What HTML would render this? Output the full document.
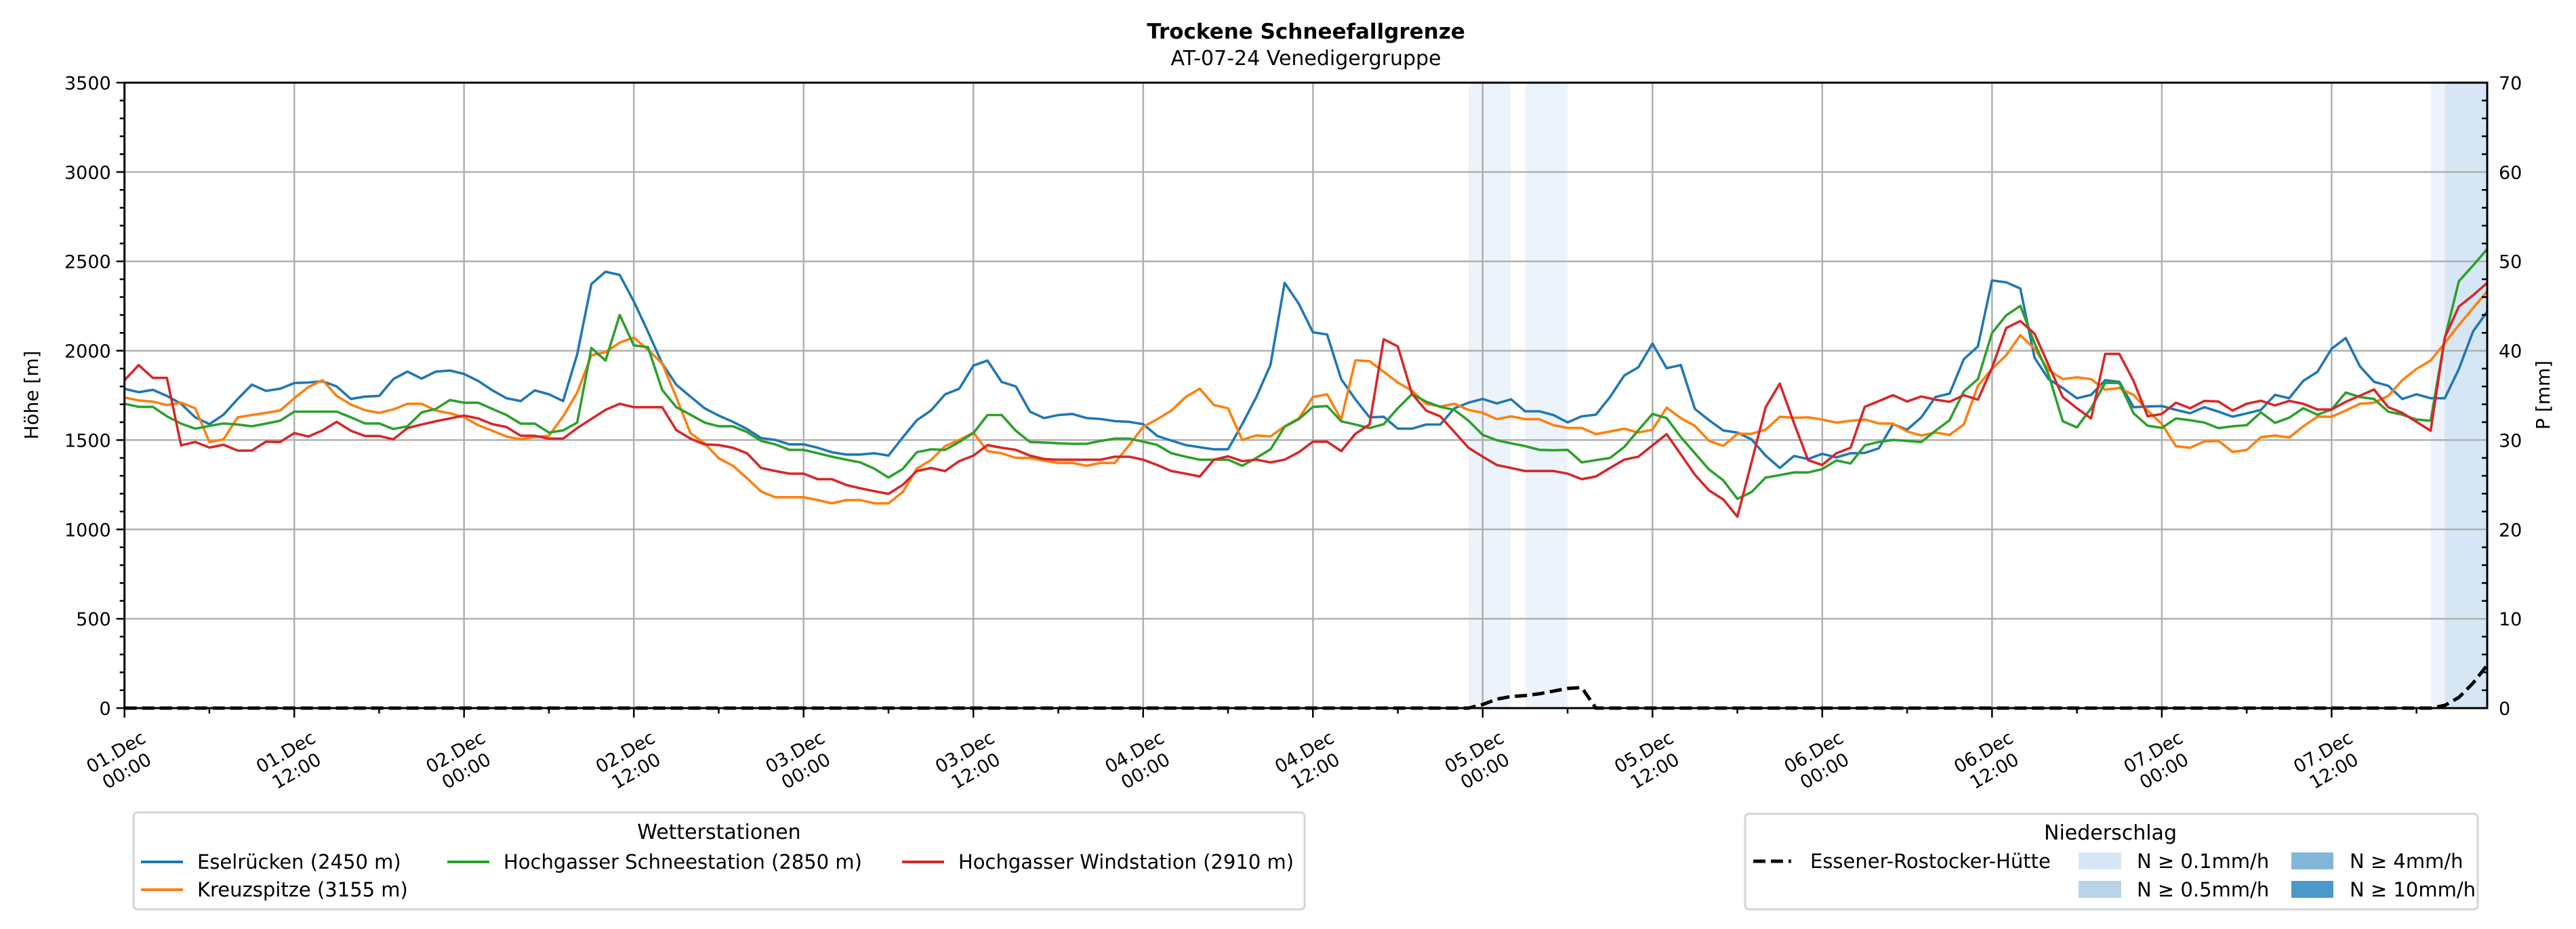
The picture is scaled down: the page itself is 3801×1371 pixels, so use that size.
<!DOCTYPE html>
<html><head><meta charset="utf-8"><style>
html,body{margin:0;padding:0;background:#fff;}
svg{display:block;font-family:"DejaVu Sans","Liberation Sans",sans-serif;}
</style></head><body>
<svg id="chart" width="3801" height="1371" viewBox="0 0 3801 1371" xmlns="http://www.w3.org/2000/svg">
<rect width="3801" height="1371" fill="#fff"/>
<text x="1927" y="57" font-size="31" font-weight="bold" text-anchor="middle">Trockene Schneefallgrenze</text>
<text x="1927" y="96" font-size="30" text-anchor="middle">AT-07-24 Venedigergruppe</text>
<g id="bands"></g>
<g id="grid"></g>
<g id="series"></g>
<g id="axes"></g>
<text transform="translate(56,583) rotate(-90)" font-size="28" text-anchor="middle">Höhe [m]</text>
<text transform="translate(3762,583) rotate(-90)" font-size="28" text-anchor="middle">P [mm]</text>

<g>
<rect x="197" y="1199" width="1728" height="143" rx="6" fill="#fff" stroke="#d4d4d4" stroke-width="3"/>
<text x="1061" y="1238" font-size="30" text-anchor="middle">Wetterstationen</text>
<g><line x1="208" y1="1272" x2="270" y2="1272" stroke="#1f77b4" stroke-width="4"/><text x="291" y="1282" font-size="29">Eselrücken (2450 m)</text></g>
<g><line x1="208" y1="1313" x2="270" y2="1313" stroke="#ff7f0e" stroke-width="4"/><text x="291" y="1323" font-size="29">Kreuzspitze (3155 m)</text></g>
<g><line x1="660" y1="1272" x2="722" y2="1272" stroke="#2ca02c" stroke-width="4"/><text x="743" y="1282" font-size="29">Hochgasser Schneestation (2850 m)</text></g>
<g><line x1="1331" y1="1272" x2="1393" y2="1272" stroke="#d62728" stroke-width="4"/><text x="1414" y="1282" font-size="29">Hochgasser Windstation (2910 m)</text></g>
</g>

<g>
<rect x="2575" y="1201" width="1081" height="141" rx="6" fill="#fff" stroke="#d4d4d4" stroke-width="3"/>
<text x="3114" y="1239" font-size="30" text-anchor="middle">Niederschlag</text>
<g><line x1="2587" y1="1271" x2="2643" y2="1271" stroke="#000" stroke-width="5" stroke-dasharray="18,8"/><text x="2671" y="1281" font-size="29">Essener-Rostocker-Hütte</text></g>
<g><rect x="3067" y="1258" width="63" height="25" fill="#d6e6f4"/><text x="3153" y="1281" font-size="29">N ≥ 0.1mm/h</text></g>
<g><rect x="3067" y="1300" width="63" height="25" fill="#b8d4ea"/><text x="3153" y="1323" font-size="29">N ≥ 0.5mm/h</text></g>
<g><rect x="3381" y="1258" width="62" height="25" fill="#82b7d9"/><text x="3467" y="1281" font-size="29">N ≥ 4mm/h</text></g>
<g><rect x="3381" y="1300" width="62" height="25" fill="#4b98c9"/><text x="3467" y="1323" font-size="29">N ≥ 10mm/h</text></g>
</g>
</svg>
<script>
const eselruecken = [1787,1768,1781,1747,1703,1627,1589,1642,1730,1810,1775,1787,1819,1822,1829,1800,1730,1743,1747,1841,1883,1844,1883,1889,1870,1831,1778,1734,1718,1778,1756,1718,1980,2373,2442,2424,2276,2106,1929,1810,1743,1678,
1637,1602,1562,1511,1501,1476,1476,1457,1432,1419,1419,1426,1413,1514,1611,1665,1756,1787,1917,1945,1825,1800,1659,1623,1640,1646,1623,1618,1606,1602,1589,1523,1497,1472,1460,1448,1448,1589,1741,1921,2380,2263,
2103,2091,1841,1728,1627,1630,1564,1564,1587,1587,1678,1709,1730,1705,1728,1661,1661,1640,1599,1633,1642,1741,1861,1907,2040,1902,1920,1674,1611,1554,1542,1504,1413,1344,1411,1394,1423,1403,1426,1428,1454,1589,
1558,1627,1741,1760,1952,2024,2393,2383,2348,1961,1841,1791,1734,1753,1835,1826,1684,1688,1690,1669,1650,1684,1659,1631,1649,1669,1753,1734,1831,1882,2011,2071,1913,1826,1804,1730,1756,1734,1734,1898,2108,2219];
const kreuzspitze = [1738,1722,1715,1696,1709,1678,1489,1504,1627,1640,1652,1665,1734,1797,1835,1747,1699,1667,1652,1671,1703,1703,1665,1650,1627,1583,1552,1520,1504,1517,1524,1633,1766,1974,1992,2045,2074,2005,1929,1740,1539,1482,
1398,1356,1287,1212,1180,1180,1180,1164,1146,1164,1164,1146,1146,1209,1340,1388,1466,1501,1542,1438,1426,1400,1400,1385,1372,1372,1356,1372,1372,1470,1574,1617,1665,1741,1787,1696,1678,1501,1526,1520,1577,1621,
1741,1756,1615,1946,1942,1882,1822,1776,1703,1688,1703,1669,1652,1617,1633,1617,1617,1583,1568,1568,1533,1548,1564,1542,1558,1681,1623,1579,1495,1467,1535,1535,1558,1630,1625,1627,1615,1598,1608,1615,1593,1592,
1548,1526,1542,1529,1587,1804,1898,1974,2087,2011,1892,1841,1851,1841,1782,1791,1753,1665,1589,1466,1457,1492,1495,1434,1444,1516,1526,1514,1577,1631,1631,1665,1703,1709,1747,1835,1898,1945,2043,2144,2238,2333];
const schneestation = [1703,1686,1686,1633,1592,1564,1579,1593,1587,1577,1592,1608,1659,1659,1659,1659,1627,1593,1593,1562,1577,1655,1674,1724,1709,1709,1674,1640,1592,1592,1542,1554,1598,2015,1945,2200,2030,2020,1781,1684,1642,1598,
1577,1577,1545,1495,1476,1445,1445,1426,1407,1390,1375,1340,1290,1338,1432,1448,1445,1489,1539,1640,1640,1552,1489,1486,1482,1479,1479,1495,1508,1508,1491,1472,1426,1407,1390,1390,1390,1356,1400,1448,1574,1617,
1686,1690,1605,1587,1567,1589,1678,1757,1715,1686,1669,1608,1529,1499,1482,1466,1445,1443,1445,1375,1388,1400,1461,1555,1646,1623,1517,1426,1335,1275,1171,1209,1290,1304,1319,1319,1338,1386,1369,1470,1489,1501,
1495,1489,1552,1611,1772,1841,2099,2198,2251,2043,1866,1605,1571,1678,1820,1819,1650,1580,1568,1621,1611,1598,1567,1577,1583,1655,1596,1625,1678,1642,1671,1766,1741,1730,1659,1642,1615,1608,2068,2389,2477,2569];
const windstation = [1835,1919,1848,1848,1470,1489,1458,1474,1441,1441,1491,1489,1539,1520,1554,1602,1552,1523,1523,1504,1567,1587,1605,1621,1637,1621,1589,1573,1524,1524,1508,1508,1567,1618,1669,1703,1684,1684,1684,1556,1508,1476,
1472,1457,1426,1344,1327,1312,1312,1281,1281,1249,1230,1214,1199,1249,1327,1344,1327,1382,1413,1472,1457,1445,1413,1394,1390,1390,1390,1390,1407,1407,1390,1360,1327,1312,1296,1390,1409,1382,1390,1375,1390,1432,
1491,1491,1438,1535,1587,2064,2024,1759,1665,1633,1545,1457,1407,1360,1344,1327,1327,1327,1312,1281,1296,1344,1390,1407,1470,1533,1420,1306,1218,1168,1071,1375,1684,1816,1595,1388,1360,1426,1457,1686,1718,1751,
1716,1744,1726,1714,1751,1726,1904,2127,2166,2096,1919,1741,1678,1621,1982,1982,1831,1633,1646,1709,1678,1719,1716,1665,1703,1720,1694,1719,1703,1671,1671,1714,1748,1783,1684,1652,1602,1552,2074,2247,2310,2380];
const precipHours = [0,95,96,97,98,99,100,101,102,103,104,163,164,165,166,167];
const precipValues = [0,0,0.4,1.0,1.3,1.4,1.6,1.9,2.2,2.3,0,0,0.3,1.2,2.8,4.8];
const bandStart = [95,99,163,164];
const bandEnd = [98,102,164,167];
const bandLevel = [0,0,0,1];
const yTicks = [0,500,1000,1500,2000,2500,3000,3500];
const y2Ticks = [0,10,20,30,40,50,60,70];
const xTickDays = ["01.Dec","01.Dec","02.Dec","02.Dec","03.Dec","03.Dec","04.Dec","04.Dec","05.Dec","05.Dec","06.Dec","06.Dec","07.Dec","07.Dec"];
const xTickTimes = ["00:00","12:00","00:00","12:00","00:00","12:00","00:00","12:00","00:00","12:00","00:00","12:00","00:00","12:00"];

const L=183.7,R=3670,T=122,B=1045,HMAX=167;
const xS=h=>L+(R-L)*h/HMAX;
const yS=v=>B-(B-T)*v/3500;
const y2S=v=>B-(B-T)*v/70;
const NS="http://www.w3.org/2000/svg";
function mk(tag,attrs,parent){const e=document.createElementNS(NS,tag);for(const k in attrs)e.setAttribute(k,attrs[k]);parent.appendChild(e);return e;}
const gB=document.getElementById('bands'),gG=document.getElementById('grid'),gS=document.getElementById('series'),gA=document.getElementById('axes');
const bandCols=['#edf3fa','#d6e6f4'];
bandStart.forEach((s,i)=>{const r=mk('rect',{x:xS(s),y:T,width:xS(bandEnd[i])-xS(s),height:B-T,fill:bandCols[bandLevel[i]]},gB);

});
yTicks.forEach(v=>{const l=mk('line',{x1:L,x2:R,y1:yS(v),y2:yS(v),stroke:'#b0b0b0','stroke-width':2.5},gG);

});
xTickDays.forEach((d,i)=>{const x=xS(i*12);const l=mk('line',{x1:x,x2:x,y1:T,y2:B,stroke:'#b0b0b0','stroke-width':2.5},gG);

});
const cols=['#1f77b4','#ff7f0e','#2ca02c','#d62728'];
const names=['line-eselruecken','line-kreuzspitze','line-schneestation','line-windstation'];
[eselruecken,kreuzspitze,schneestation,windstation].forEach((arr,si)=>{
const pts=arr.map((v,h)=>xS(h).toFixed(1)+','+yS(v).toFixed(1)).join(' ');
const p=mk('polyline',{points:pts,fill:'none',stroke:cols[si],'stroke-width':3.6,'stroke-linejoin':'round'},gS);

});
const pp=precipHours.map((h,i)=>xS(h).toFixed(1)+','+y2S(precipValues[i]).toFixed(1)).join(' ');
const pl=mk('polyline',{points:pp,fill:'none',stroke:'#000','stroke-width':5,'stroke-dasharray':'18,8'},gS);


const fr=mk('rect',{x:L,y:T,width:R-L,height:B-T,fill:'none',stroke:'#000','stroke-width':3},gA);


for(let v=0;v<=3500;v+=100){const major=v%500===0;mk('line',{x1:L-(major?12:7),x2:L,y1:yS(v),y2:yS(v),stroke:'#000','stroke-width':2.5},gA);}
yTicks.forEach(v=>{const t=mk('text',{x:L-20,y:yS(v)+10,'font-size':27,'text-anchor':'end'},gA);t.textContent=v;

});
for(let v=0;v<=70;v+=2){const major=v%10===0;mk('line',{x1:R,x2:R-(major?0:8),y1:y2S(v),y2:y2S(v),stroke:'#000','stroke-width':2.5},gA);}
y2Ticks.forEach(v=>{const t=mk('text',{x:R+17,y:y2S(v)+10,'font-size':27,'text-anchor':'start'},gA);t.textContent=v;

});
for(let h=0;h<=HMAX;h+=6){const major=h%12===0;mk('line',{x1:xS(h),x2:xS(h),y1:B,y2:B+(major?14:8),stroke:'#000','stroke-width':2.5},gA);}
xTickDays.forEach((d,i)=>{const x=xS(i*12);
const t=mk('text',{transform:`translate(${x-8},${1118}) rotate(-30)`,'font-size':27,'text-anchor':'middle'},gA);


const a=mk('tspan',{x:0,dy:0},t);a.textContent=d;
const b=mk('tspan',{x:0,dy:32},t);b.textContent=xTickTimes[i];});
</script>
</body></html>
